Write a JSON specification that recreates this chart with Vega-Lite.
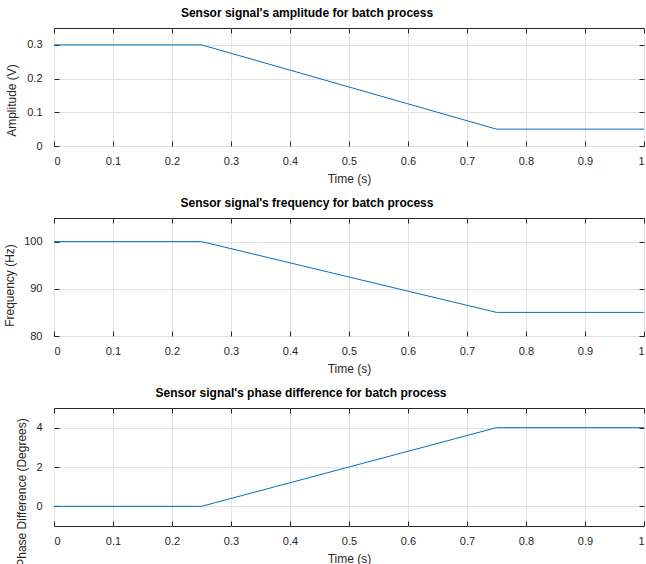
{
  "$schema": "https://vega.github.io/schema/vega-lite/v6.json",
  "padding": {"left": 2, "top": 6, "right": 0, "bottom": 0},
  "background": "white",
  "datasets": {
    "amp": [{"t": 0, "v": 0.3}, {"t": 0.25, "v": 0.3}, {"t": 0.75, "v": 0.05}, {"t": 1, "v": 0.05}],
    "freq": [{"t": 0, "v": 100}, {"t": 0.25, "v": 100}, {"t": 0.75, "v": 85}, {"t": 1, "v": 85}],
    "phase": [{"t": 0, "v": 0}, {"t": 0.25, "v": 0}, {"t": 0.75, "v": 4}, {"t": 1, "v": 4}]
  },
  "config": {
    "font": "Liberation Sans",
    "view": {"stroke": "#262626", "strokeWidth": 1},
    "axis": {
      "labelFont": "Liberation Sans", "labelFontSize": 11, "labelColor": "#262626",
      "titleFont": "Liberation Sans", "titleFontSize": 12, "titleFontWeight": "normal", "titleColor": "#262626",
      "domain": false, "tickColor": "#262626", "tickSize": -5, "gridColor": "#e3e3e3", "gridWidth": 1
    },
    "title": {"font": "Liberation Sans", "fontSize": 12, "fontWeight": "bold", "color": "#000000", "offset": 8},
    "concat": {"spacing": 72}
  },
  "bounds": "flush",
  "vconcat": [
    {
      "width": 590, "height": 118,
      "title": {"text": "Sensor signal's amplitude for batch process", "dx": -42},
      "data": {"name": "amp"},
      "layer": [
        {"mark": {"type": "line", "color": "#0072BD", "strokeWidth": 1},
         "encoding": {
           "x": {"field": "t", "type": "quantitative", "scale": {"domain": [0, 1], "nice": false},
                 "axis": {"orient": "bottom", "title": "Time (s)", "values": [0,0.1,0.2,0.3,0.4,0.5,0.6,0.7,0.8,0.9,1], "format": "~g", "labelPadding": 14, "titlePadding": 7}},
           "y": {"field": "v", "type": "quantitative", "scale": {"domain": [0, 0.35], "nice": false},
                 "axis": {"orient": "left", "title": "Amplitude (V)", "values": [0,0.1,0.2,0.3], "format": "~g", "labelPadding": 17, "titleX": -43, "titleY": 72, "titleBaseline": "middle", "titleAlign": "center"}}
         }},
        {"mark": {"type": "line", "opacity": 0},
         "encoding": {
           "x": {"field": "t", "type": "quantitative", "axis": {"orient": "top", "title": null, "labels": false, "grid": false, "values": [0,0.1,0.2,0.3,0.4,0.5,0.6,0.7,0.8,0.9,1]}},
           "y": {"field": "v", "type": "quantitative", "axis": {"orient": "right", "title": null, "labels": false, "grid": false, "values": [0,0.1,0.2,0.3]}}
         }}
      ],
      "resolve": {"axis": {"x": "independent", "y": "independent"}}
    },
    {
      "width": 590, "height": 118,
      "title": {"text": "Sensor signal's frequency for batch process", "dx": -42},
      "data": {"name": "freq"},
      "layer": [
        {"mark": {"type": "line", "color": "#0072BD", "strokeWidth": 1},
         "encoding": {
           "x": {"field": "t", "type": "quantitative", "scale": {"domain": [0, 1], "nice": false},
                 "axis": {"orient": "bottom", "title": "Time (s)", "values": [0,0.1,0.2,0.3,0.4,0.5,0.6,0.7,0.8,0.9,1], "format": "~g", "labelPadding": 14, "titlePadding": 7}},
           "y": {"field": "v", "type": "quantitative", "scale": {"domain": [80, 105], "nice": false, "zero": false},
                 "axis": {"orient": "left", "title": "Frequency (Hz)", "values": [80,90,100], "format": "d", "labelPadding": 17, "titleX": -45, "titleY": 67, "titleBaseline": "middle", "titleAlign": "center"}}
         }},
        {"mark": {"type": "line", "opacity": 0},
         "encoding": {
           "x": {"field": "t", "type": "quantitative", "axis": {"orient": "top", "title": null, "labels": false, "grid": false, "values": [0,0.1,0.2,0.3,0.4,0.5,0.6,0.7,0.8,0.9,1]}},
           "y": {"field": "v", "type": "quantitative", "axis": {"orient": "right", "title": null, "labels": false, "grid": false, "values": [80,90,100]}}
         }}
      ],
      "resolve": {"axis": {"x": "independent", "y": "independent"}}
    },
    {
      "width": 590, "height": 118,
      "title": {"text": "Sensor signal's phase difference for batch process", "dx": -48},
      "data": {"name": "phase"},
      "layer": [
        {"mark": {"type": "line", "color": "#0072BD", "strokeWidth": 1},
         "encoding": {
           "x": {"field": "t", "type": "quantitative", "scale": {"domain": [0, 1], "nice": false},
                 "axis": {"orient": "bottom", "title": "Time (s)", "values": [0,0.1,0.2,0.3,0.4,0.5,0.6,0.7,0.8,0.9,1], "format": "~g", "labelPadding": 14, "titlePadding": 7}},
           "y": {"field": "v", "type": "quantitative", "scale": {"domain": [-1, 5], "nice": false, "zero": false},
                 "axis": {"orient": "left", "title": "Phase Difference (Degrees)", "values": [0,2,4], "format": "d", "labelPadding": 17, "titleX": -33, "titleY": 84, "titleBaseline": "middle", "titleAlign": "center"}}
         }},
        {"mark": {"type": "line", "opacity": 0},
         "encoding": {
           "x": {"field": "t", "type": "quantitative", "axis": {"orient": "top", "title": null, "labels": false, "grid": false, "values": [0,0.1,0.2,0.3,0.4,0.5,0.6,0.7,0.8,0.9,1]}},
           "y": {"field": "v", "type": "quantitative", "axis": {"orient": "right", "title": null, "labels": false, "grid": false, "values": [0,2,4]}}
         }}
      ],
      "resolve": {"axis": {"x": "independent", "y": "independent"}}
    }
  ]
}
